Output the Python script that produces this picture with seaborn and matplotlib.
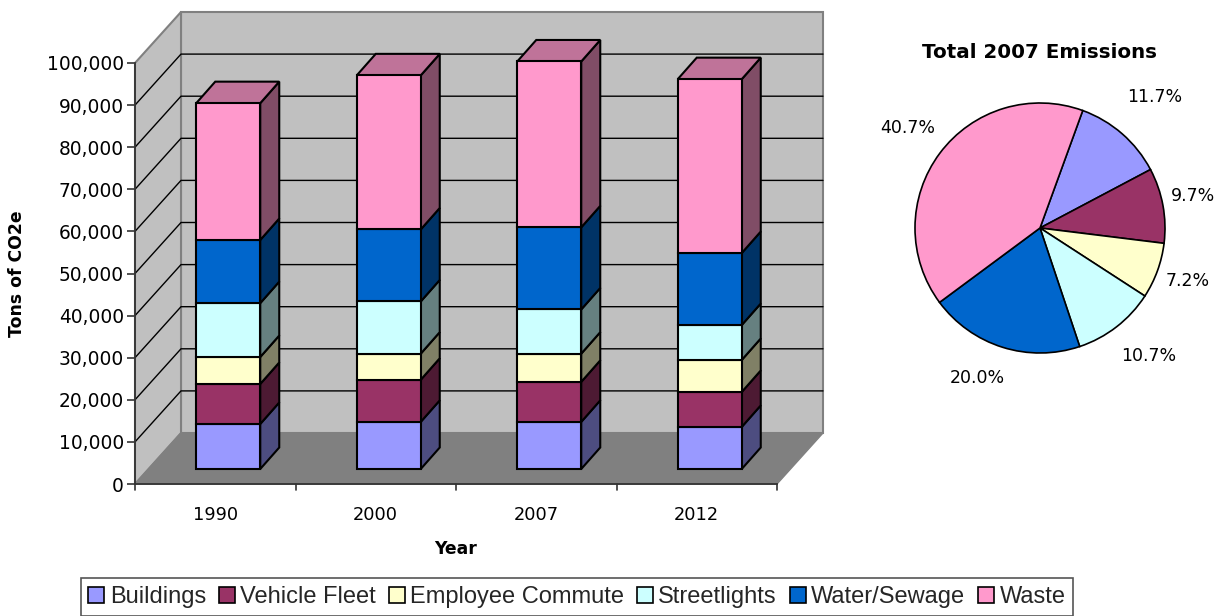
import pandas as pd
import numpy as np
import matplotlib
matplotlib.use('Agg')
import matplotlib.pyplot as plt
import seaborn as sns
from matplotlib.patches import Polygon, Patch

years = ['1990', '2000', '2007', '2012']
categories = ['Buildings', 'Vehicle Fleet', 'Employee Commute', 'Streetlights', 'Water/Sewage', 'Waste']
buildings = [10700, 11200, 11200, 10000]
vehicle_fleet = [9500, 10000, 9500, 8300]
employee_commute = [6400, 6200, 6700, 7600]
streetlights = [12800, 12400, 10500, 8300]
water_sewage = [15000, 17100, 19500, 17100]
waste = [32500, 36600, 39400, 41300]
series = [buildings, vehicle_fleet, employee_commute, streetlights, water_sewage, waste]

pie_values = [11.7, 9.7, 7.2, 10.7, 20.0, 40.7]
y_ticks = list(range(0, 100001, 10000))

colors = ['#9999ff', '#993366', '#ffffcc', '#ccffff', '#0066cc', '#ff99cc']
side_colors = ['#4d4d80', '#4d1a33', '#808066', '#668080', '#003366', '#804d66']
top_colors = ['#7373bf', '#732680', '#bfbf99', '#99bfbf', '#004d99', '#bf7399']

W, H = 1222, 616
sns.set_theme(style='white')
plt.rcParams['font.family'] = ['DejaVu Sans']

fig = plt.figure(figsize=(W / 100, H / 100), dpi=100)
ax = fig.add_axes([135 / W, 1 - 484 / H, 642 / W, 421 / H])
ax.set_xlim(-0.5, 3.5)
ax.set_ylim(0, 100000)

# pixel sizes of the fake 3d turned into data units
px_x = 4 / 642
px_y = 100000 / 421
wall_dx, wall_dy = 46 * px_x, 51 * px_y
bar_dx, bar_dy = 19 * px_x, 21.5 * px_y
shift_x, shift_y = 13 * px_x, 15 * px_y
bar_width = 64 * px_x
wall_grey = '#c0c0c0'
edge_grey = '#808080'

x0, x1 = -0.5, 3.5
top = 100000

def poly(points, face, edge='black', lw=1.0, z=1):
    ax.add_patch(Polygon(points, closed=True, facecolor=face, edgecolor=edge, linewidth=lw,
                         zorder=z, clip_on=False, joinstyle='miter'))

# walls and floor
poly([(x0 + wall_dx, wall_dy), (x1 + wall_dx, wall_dy), (x1 + wall_dx, top + wall_dy), (x0 + wall_dx, top + wall_dy)],
     wall_grey, edge_grey, 1.5)
poly([(x0, 0), (x0 + wall_dx, wall_dy), (x0 + wall_dx, top + wall_dy), (x0, top)], wall_grey, edge_grey, 1.5)
poly([(x0, 0), (x1, 0), (x1 + wall_dx, wall_dy), (x0 + wall_dx, wall_dy)], edge_grey, edge_grey, 1.0, 1.5)

for t in y_ticks[1:-1]:
    ax.plot([x0, x0 + wall_dx, x1 + wall_dx], [t, t + wall_dy, t + wall_dy], color='black', lw=1.0,
            zorder=1.2, clip_on=False)

# stacked bars
df = pd.DataFrame({'Year': years})
bottoms = np.zeros(len(years))
for name, values, color in zip(categories, series, colors):
    df[name] = values
    before = len(ax.patches)
    sns.barplot(data=df, x='Year', y=name, color=color, saturation=1, width=bar_width, bottom=bottoms + shift_y,
                edgecolor='black', linewidth=1.5, ax=ax, zorder=3, clip_on=False)
    for patch in ax.patches[before:]:
        patch.set_x(patch.get_x() + shift_x)
    bottoms = bottoms + np.array(values)

ax.set_xlim(-0.5, 3.5)
ax.set_ylim(0, 100000)

for i in range(len(years)):
    right = i + shift_x + bar_width / 2
    left = i + shift_x - bar_width / 2
    base = shift_y
    for values, side in zip(series, side_colors):
        v = values[i]
        poly([(right, base), (right + bar_dx, base + bar_dy), (right + bar_dx, base + v + bar_dy), (right, base + v)],
             side, 'black', 1.5, 2.5)
        base += v
    poly([(left, base), (right, base), (right + bar_dx, base + bar_dy), (left + bar_dx, base + bar_dy)],
         top_colors[5], 'black', 1.5, 2.5)

# axes and ticks
sns.despine(ax=ax, top=True, right=True)
for side in ['left', 'bottom']:
    ax.spines[side].set_color('#333333')
    ax.spines[side].set_linewidth(1.3)
    ax.spines[side].set_zorder(4)
ax.set_yticks(y_ticks)
ax.set_yticklabels([f'{t:,}' for t in y_ticks], fontsize=13.4, color='black')
ax.set_xticks(range(4))
ax.set_xticklabels(years, fontsize=12.8, color='black')
ax.tick_params(axis='y', length=6, width=1.2, color='#333333', left=True, pad=2)
ax.tick_params(axis='x', length=0, pad=16)
for b in [-0.5, 0.5, 1.5, 2.5, 3.5]:
    ax.plot([b, b], [0, -6 * px_y], color='#333333', lw=1.2, clip_on=False, zorder=4)
ax.set_xlabel('Year', fontsize=12.4, fontweight='bold', labelpad=11, color='black')
ax.set_ylabel('Tons of CO2e', fontsize=12.4, fontweight='bold', labelpad=15, color='black')

# pie
pie_ax = fig.add_axes([(1040 - 130) / W, 1 - (228 + 130) / H, 260 / W, 260 / H])
wedges, _ = pie_ax.pie(pie_values, colors=colors, startangle=70, counterclock=False, radius=125 / 130,
                       wedgeprops={'edgecolor': 'black', 'linewidth': 1.2})
pie_ax.set_xlim(-1, 1)
pie_ax.set_ylim(-1, 1)
pie_labels = [f'{v:.1f}%' for v in pie_values]
label_px = [(1155, 97), (1193, 196), (1188, 281), (1149, 356), (977, 378), (908, 128)]
for text, (px, py) in zip(pie_labels, label_px):
    fig.text(px / W, 1 - py / H, text, ha='center', va='center', fontsize=12.5, color='black')
fig.text(1040 / W, 1 - 52 / H, 'Total 2007 Emissions', ha='center', va='center', fontsize=14.3, fontweight='bold',
         color='black')

# legend
handles = [Patch(facecolor=c, edgecolor='black', linewidth=1.2, label=n) for c, n in zip(colors, categories)]
legend = fig.legend(handles=handles, loc='center', bbox_to_anchor=(577 / W, 1 - 597 / H), ncol=6, frameon=True,
                    fancybox=False, edgecolor='#555555', framealpha=1, handlelength=0.68,
                    handleheight=0.68, handletextpad=0.22, columnspacing=0.55, borderpad=0.32,
                    prop={'family': 'Liberation Sans', 'size': 17})
legend.get_frame().set_linewidth(1.2)

fig.savefig('out.png', dpi=100)
